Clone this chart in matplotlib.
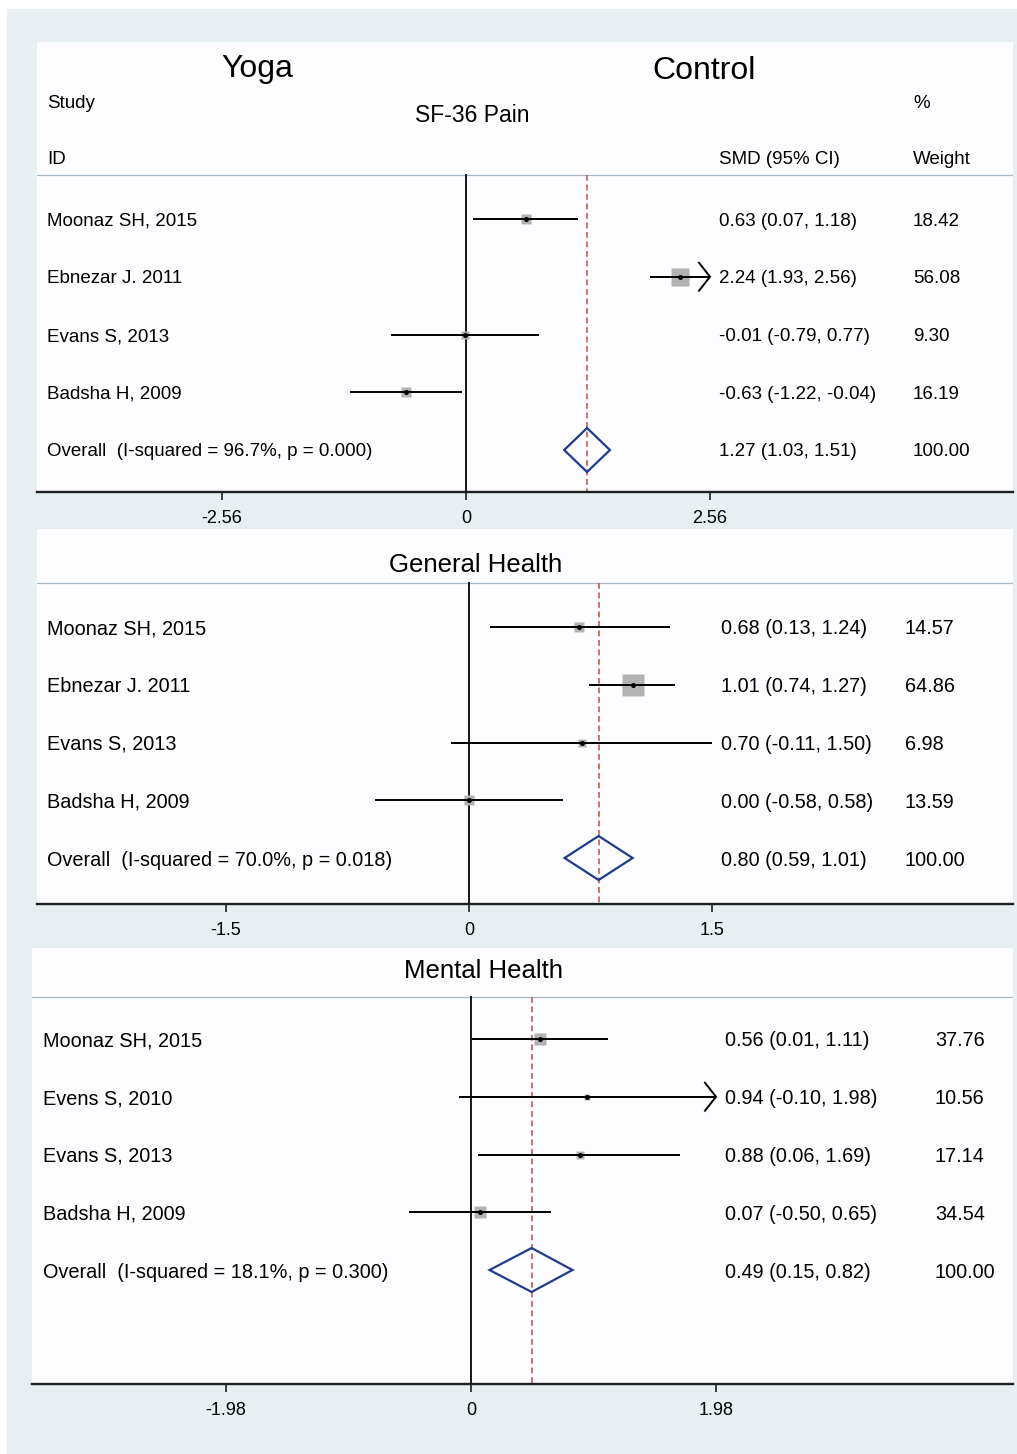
import matplotlib
matplotlib.use("Agg")
import matplotlib.pyplot as plt
from matplotlib.patches import Rectangle, Polygon
from matplotlib.transforms import blended_transform_factory
import numpy as np

plt.rcParams['font.family'] = ['Liberation Sans', 'DejaVu Sans']

W, H, DPI = 1017, 1454, 100

# ---------------- data ----------------
pain_studies = ["Moonaz SH, 2015", "Ebnezar J. 2011", "Evans S, 2013", "Badsha H, 2009"]
pain_smd = [0.63, 2.24, -0.01, -0.63]
pain_lo = [0.07, 1.93, -0.79, -1.22]
pain_hi = [1.18, 2.56, 0.77, -0.04]
pain_weight = [18.42, 56.08, 9.30, 16.19]
pain_overall = [1.27, 1.03, 1.51]
pain_i2 = "96.7%"
pain_p = "0.000"
pain_tick = 2.56
pain_arrow = [False, True, False, False]

gh_studies = ["Moonaz SH, 2015", "Ebnezar J. 2011", "Evans S, 2013", "Badsha H, 2009"]
gh_smd = [0.68, 1.01, 0.70, 0.00]
gh_lo = [0.13, 0.74, -0.11, -0.58]
gh_hi = [1.24, 1.27, 1.50, 0.58]
gh_weight = [14.57, 64.86, 6.98, 13.59]
gh_overall = [0.80, 0.59, 1.01]
gh_i2 = "70.0%"
gh_p = "0.018"
gh_tick = 1.5
gh_arrow = [False, False, False, False]

mh_studies = ["Moonaz SH, 2015", "Evens S, 2010", "Evans S, 2013", "Badsha H, 2009"]
mh_smd = [0.56, 0.94, 0.88, 0.07]
mh_lo = [0.01, -0.10, 0.06, -0.50]
mh_hi = [1.11, 1.98, 1.69, 0.65]
mh_weight = [37.76, 10.56, 17.14, 34.54]
mh_overall = [0.49, 0.15, 0.82]
mh_i2 = "18.1%"
mh_p = "0.300"
mh_tick = 1.98
mh_arrow = [False, True, False, False]

# ---------------- style ----------------
BG = "#e7eff2"
PANEL = "#fdfdff"
NAVY = "#1d3c8f"
RED = "#c85a50"
BOXGRAY = "#b2b2b2"
HDRLINE = "#a6b6c6"
ROW_STEP = 57.75  # pixels between rows

fig = plt.figure(figsize=(W / DPI, H / DPI), dpi=DPI, facecolor="white")
fig.patches.append(Rectangle((7 / W, 0), 1 - 7 / W, 1 - 9 / H, transform=fig.transFigure,
                             facecolor=BG, edgecolor="none", zorder=-10))


def fx(px):
    return px / W


def fy(py):
    return 1 - py / H


def ftext(px, py, s, **kw):
    fig.text(fx(px), fy(py), s, **kw)


def fmt_tick(v):
    return "0" if v == 0 else f"{v:g}"


def panel(studies, smd, lo, hi, weight, overall, i2, p, tick, arrows, lay):
    left, right, top, hdr, row0, axis = lay["left"], lay["right"], lay["top"], lay["hdr"], lay["row0"], lay["axis"]
    zero, tick_px = lay["zero"], lay["tick_px"]
    ppu = tick_px / tick
    ax = fig.add_axes([fx(left), fy(axis), (right - left) / W, (axis - top) / H])
    ax.set_facecolor(PANEL)
    ax.set_xlim((left - zero) / ppu, (right - zero) / ppu)
    y_bot = (axis - row0) / ROW_STEP
    y_top = (top - row0) / ROW_STEP
    ax.set_ylim(y_bot, y_top)
    hdr_y = (hdr - row0) / ROW_STEP

    for s in ["top", "left", "right"]:
        ax.spines[s].set_visible(False)
    ax.spines["bottom"].set_linewidth(1.7)
    ax.spines["bottom"].set_color("#1e1e1e")
    ax.set_yticks([])
    ticks = [-tick, 0, tick]
    ax.set_xticks(ticks)
    ax.set_xticklabels([fmt_tick(t) for t in ticks])
    ax.tick_params(axis="x", direction="out", length=6, width=1.2, color="#1e1e1e",
                   labelsize=13, pad=7)

    ax.axhline(hdr_y, color=HDRLINE, lw=0.9, zorder=1)
    ax.plot([0, 0], [hdr_y, y_bot], color="#151515", lw=1.4, zorder=2, clip_on=False)
    est, olo, ohi = overall
    ax.plot([est, est], [hdr_y, y_bot], color=RED, lw=1.2, dashes=(3.5, 2.2), zorder=2, clip_on=False)

    tr = blended_transform_factory(fig.transFigure, ax.transData)
    fs = lay["fs"]
    tk = dict(transform=tr, fontsize=fs, va="center_baseline", ha="left")
    n = len(studies)
    for i in range(n):
        r = i
        hi_draw = min(hi[i], tick)
        ax.plot([lo[i], hi_draw], [r, r], color="black", lw=1.4, zorder=4, solid_capstyle="butt")
        side_px = lay["box_k"] * np.sqrt(weight[i])
        ax.plot(smd[i], r, marker="s", ms=side_px * 72 / DPI, color=BOXGRAY, mec="none", zorder=3)
        ax.plot(smd[i], r, marker="o", ms=3.6, color="black", mec="none", zorder=5)
        if arrows[i]:
            dx = 11 / ppu
            dy = 14 / ROW_STEP
            ax.plot([hi_draw - dx, hi_draw, hi_draw - dx], [r - dy, r, r + dy],
                    color="black", lw=1.4, zorder=4, solid_joinstyle="miter")
        ax.text(fx(lay["lab_x"]), r, studies[i], **tk)
        ax.text(fx(lay["smd_x"]), r, f"{smd[i]:.2f} ({lo[i]:.2f}, {hi[i]:.2f})", **tk)
        ax.text(fx(lay["w_x"]), r, f"{weight[i]:.2f}", **tk)

    r = n
    dh = 22 / ROW_STEP
    ax.add_patch(Polygon([(olo, r), (est, r - dh), (ohi, r), (est, r + dh)], closed=True,
                         fill=False, edgecolor=NAVY, lw=1.6, zorder=5, joinstyle="miter"))
    ax.text(fx(lay["lab_x"]), r, f"Overall  (I-squared = {i2}, p = {p})", **tk)
    ax.text(fx(lay["smd_x"]), r, f"{est:.2f} ({olo:.2f}, {ohi:.2f})", **tk)
    ax.text(fx(lay["w_x"]), r, f"{100:.2f}", **tk)
    return ax


lay1 = dict(left=37, right=1013, top=42, hdr=175, row0=219, axis=492, zero=466, tick_px=244,
            lab_x=47, smd_x=719, w_x=913, fs=13.5, box_k=2.5)
lay2 = dict(left=37, right=1013, top=529, hdr=583, row0=627, axis=904, zero=469, tick_px=243,
            lab_x=47, smd_x=721, w_x=905, fs=14.3, box_k=2.85)
lay3 = dict(left=32, right=1013, top=948, hdr=997, row0=1039, axis=1384, zero=471, tick_px=245,
            lab_x=43, smd_x=725, w_x=935, fs=14.3, box_k=2.1)

panel(pain_studies, pain_smd, pain_lo, pain_hi, pain_weight, pain_overall, pain_i2, pain_p,
      pain_tick, pain_arrow, lay1)
panel(gh_studies, gh_smd, gh_lo, gh_hi, gh_weight, gh_overall, gh_i2, gh_p,
      gh_tick, gh_arrow, lay2)
panel(mh_studies, mh_smd, mh_lo, mh_hi, mh_weight, mh_overall, mh_i2, mh_p,
      mh_tick, mh_arrow, lay3)

# header texts
hk = dict(va="center_baseline")
ftext(257, 77, "Yoga", fontsize=23, ha="center", va="baseline")
ftext(704, 79, "Control", fontsize=23, ha="center", va="baseline")
ftext(47, 101, "Study", fontsize=13.5, ha="left", **hk)
ftext(47, 158, "ID", fontsize=13.5, ha="left", **hk)
ftext(472, 113, "SF-36 Pain", fontsize=16.5, ha="center", **hk)
ftext(913, 101, "%", fontsize=13.5, ha="left", **hk)
ftext(719, 158, "SMD (95% CI)", fontsize=13.5, ha="left", **hk)
ftext(913, 158, "Weight", fontsize=13.5, ha="left", **hk)
ftext(476, 563, "General Health", fontsize=18.5, ha="center", **hk)
ftext(484, 969, "Mental Health", fontsize=18.5, ha="center", **hk)

fig.savefig("out.png", dpi=DPI, facecolor=fig.get_facecolor())
